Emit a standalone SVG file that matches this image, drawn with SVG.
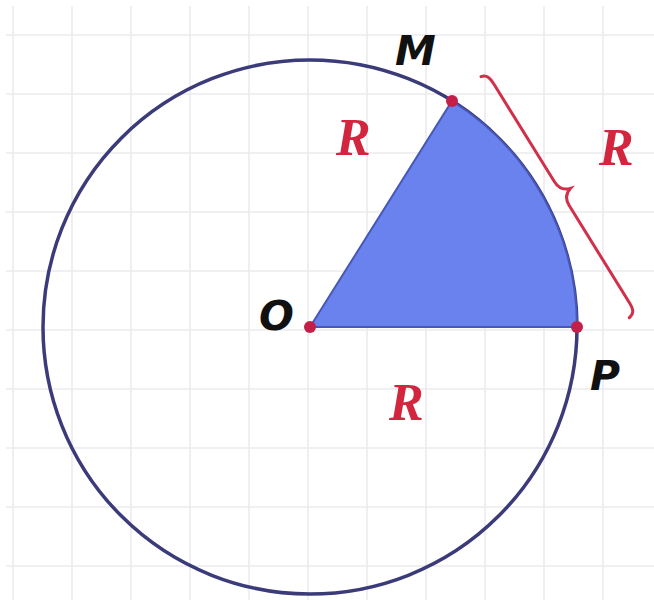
<svg xmlns="http://www.w3.org/2000/svg" width="654" height="600" viewBox="0 0 654 600">
  <defs>
    <style>
      .grid line { stroke: #ebebee; stroke-width: 1.6; }
      .pt { font-family: "DejaVu Sans", "Liberation Sans", sans-serif; font-weight: bold; font-style: italic; font-size: 41px; fill: #111; }
      .r { font-family: "Liberation Serif", "Times New Roman", serif; font-weight: bold; font-style: italic; font-size: 52px; fill: #d2263f; }
      .dot { fill: #c41f48; }
    </style>
  </defs>
  <rect width="654" height="600" fill="#ffffff"/>
  <g class="grid" id="grid">
    <line x1="13" y1="6" x2="13" y2="600"/>
    <line x1="72" y1="6" x2="72" y2="600"/>
    <line x1="131" y1="6" x2="131" y2="600"/>
    <line x1="190" y1="6" x2="190" y2="600"/>
    <line x1="249" y1="6" x2="249" y2="600"/>
    <line x1="308" y1="6" x2="308" y2="600"/>
    <line x1="367" y1="6" x2="367" y2="600"/>
    <line x1="426" y1="6" x2="426" y2="600"/>
    <line x1="485" y1="6" x2="485" y2="600"/>
    <line x1="544" y1="6" x2="544" y2="600"/>
    <line x1="603" y1="6" x2="603" y2="600"/>
    <line x1="6" y1="35" x2="654" y2="35"/>
    <line x1="6" y1="94" x2="654" y2="94"/>
    <line x1="6" y1="153" x2="654" y2="153"/>
    <line x1="6" y1="212" x2="654" y2="212"/>
    <line x1="6" y1="271" x2="654" y2="271"/>
    <line x1="6" y1="330" x2="654" y2="330"/>
    <line x1="6" y1="389" x2="654" y2="389"/>
    <line x1="6" y1="448" x2="654" y2="448"/>
    <line x1="6" y1="507" x2="654" y2="507"/>
    <line x1="6" y1="566" x2="654" y2="566"/>
  </g>
  <g id="circle">
    <circle cx="310" cy="327" r="267" fill="none" stroke="#3b3b7a" stroke-width="3.5"/>
  </g>
  <g id="sector">
    <path d="M310,327 L577,327 A267,267 0 0 0 452,101 Z" fill="#6a82ee" stroke="#4858b8" stroke-width="2"/>
  </g>
  <g id="brace">
    <path transform="translate(487,73) rotate(58.2)" d="M0,7 C1,1 6,0 13,0 L128,0 C136,0 140,-3 142,-10 C144,-3 148,0 156,0 L270,0 C277,0 282,1 283,8" fill="none" stroke="#d0304a" stroke-width="3" stroke-linecap="round"/>
  </g>
  <g id="node-O">
    <circle class="dot" cx="310" cy="327" r="6"/>
    <text class="pt" x="259" y="330">O</text>
  </g>
  <g id="node-M">
    <circle class="dot" cx="452" cy="101" r="6"/>
    <text class="pt" x="395" y="65">M</text>
  </g>
  <g id="node-P">
    <circle class="dot" cx="577" cy="327" r="6"/>
    <text class="pt" x="590" y="390">P</text>
  </g>
  <g id="labels">
    <text class="r" x="336" y="155">R</text>
    <text class="r" x="599" y="165">R</text>
    <text class="r" x="389" y="420">R</text>
  </g>
</svg>
